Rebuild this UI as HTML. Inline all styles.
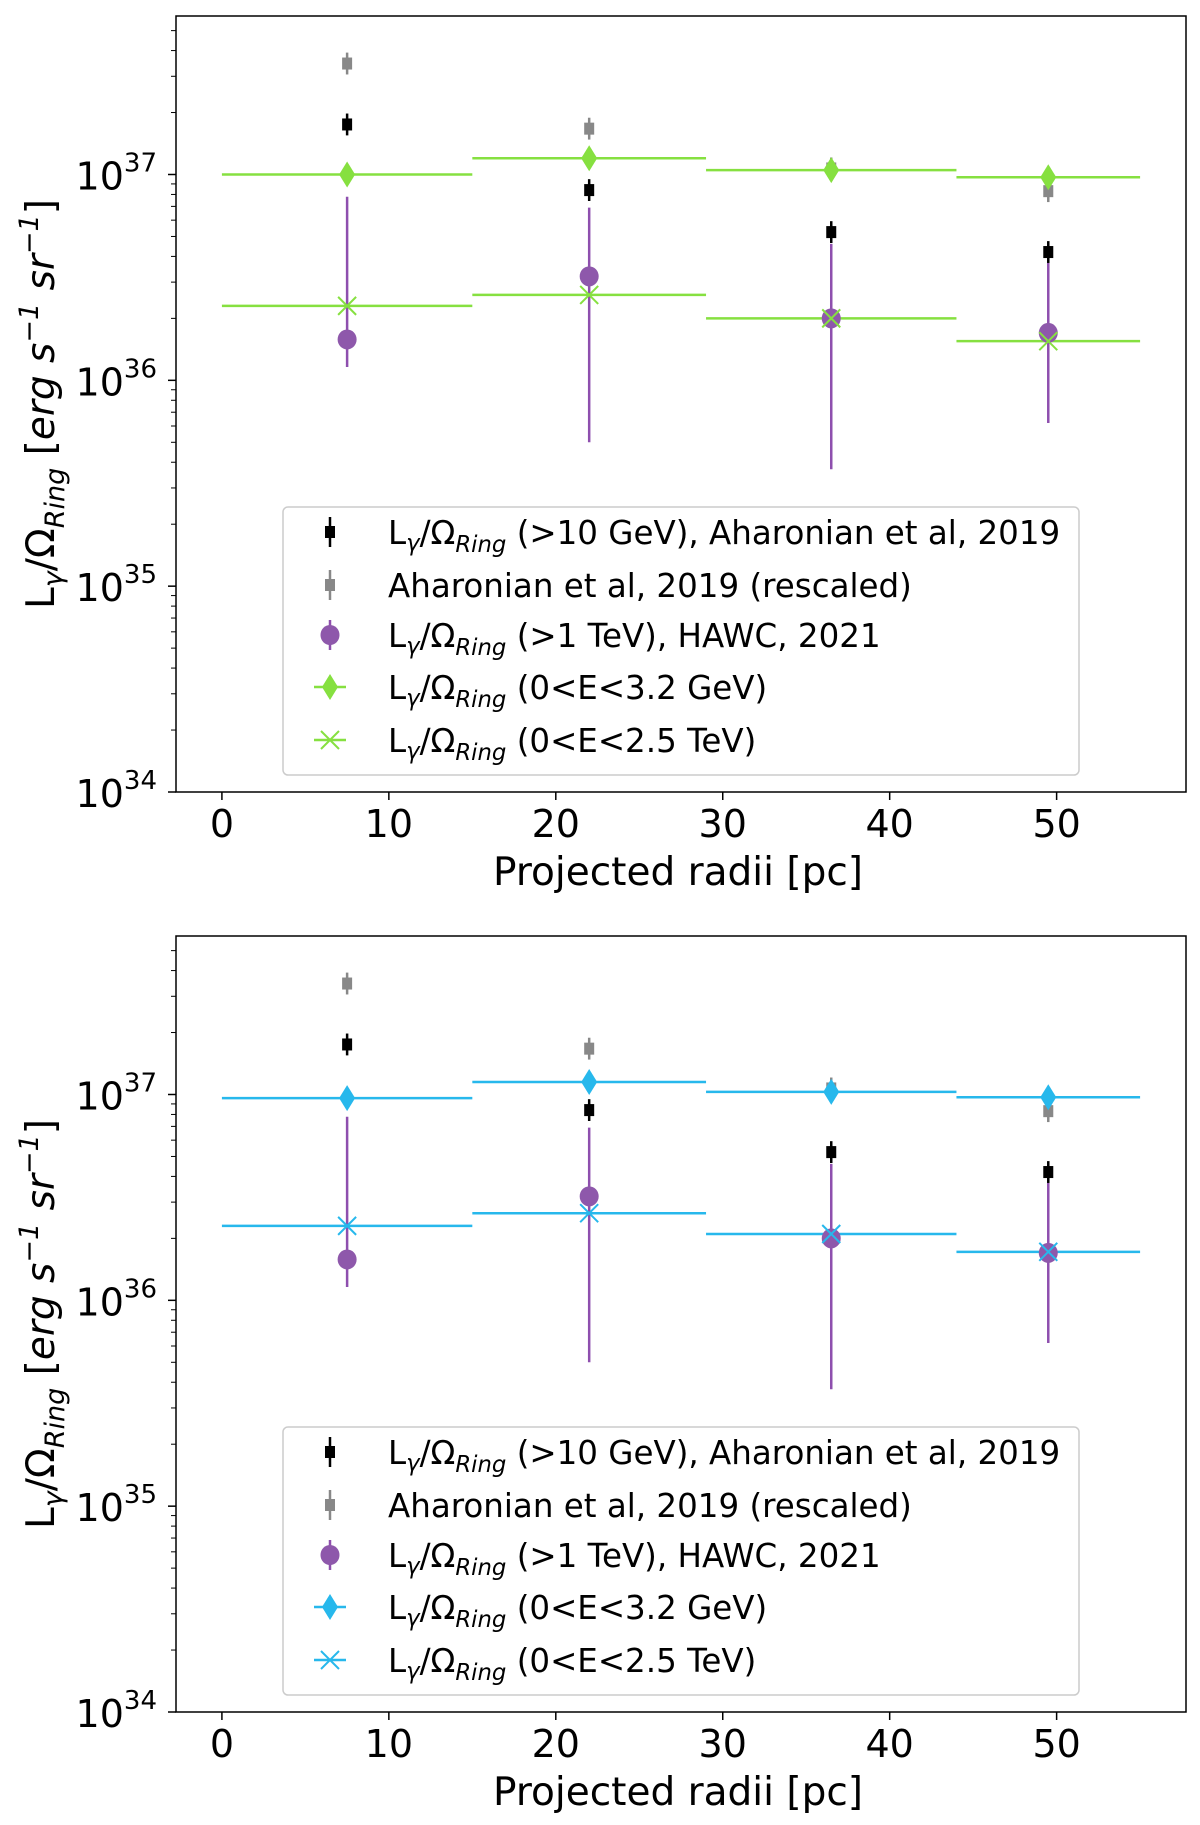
<!DOCTYPE html>
<html><head><meta charset="utf-8"><style>
body{margin:0;background:#fff}
svg{display:block;font-family:"DejaVu Sans","Liberation Sans",sans-serif}
</style></head><body>
<svg id="fig" width="1200" height="1825" viewBox="0 0 1200 1825" xmlns="http://www.w3.org/2000/svg"></svg>
<script>
const xPos = [7.5, 22, 36.5, 49.5];
const binEdges = [0, 15, 29, 44, 55];
const hessVals = [1.75e37, 8.4e36, 5.25e36, 4.2e36];
const hessRescaled = [3.46e37, 1.67e37, 1.07e37, 8.3e36];
const hawcVals = [1.58e36, 3.2e36, 2.0e36, 1.7e36];
const hawcLow = [1.16e36, 5.0e35, 3.7e35, 6.2e35];
const hawcHigh = [7.8e36, 6.9e36, 4.6e36, 4.0e36];
const topGeV = [1.0e37, 1.2e37, 1.05e37, 0.97e37];
const topTeV = [2.3e36, 2.6e36, 2.0e36, 1.55e36];
const botGeV = [0.96e37, 1.15e37, 1.03e37, 0.97e37];
const botTeV = [2.3e36, 2.65e36, 2.1e36, 1.72e36];
const xTicks = [0, 10, 20, 30, 40, 50];
const yDecades = [34, 35, 36, 37];

const NS = "http://www.w3.org/2000/svg";
const svg = document.getElementById('fig');
function mk(tag, attrs, parent){
  const e = document.createElementNS(NS, tag);
  for (const k in attrs) e.setAttribute(k, attrs[k]);
  (parent||svg).appendChild(e);
  return e;
}
function label(parent, x, y, size, extra){
  const t = mk('text', {x:x, y:y, 'font-size':size, fill:'#000'}, parent);
  t.innerHTML = 'L<tspan font-size="'+(size*0.7)+'" dy="'+(size*0.2)+'" font-style="italic">γ</tspan><tspan dy="'+(-size*0.2)+'">/Ω</tspan><tspan font-size="'+(size*0.7)+'" dy="'+(size*0.25)+'" font-style="italic">Ring</tspan><tspan dy="'+(-size*0.25)+'"> '+extra+'</tspan>';
  return t;
}

function panel(top, color, geV, teV, idx){
  const L = 176, R = 1186, T = top, B = top + 776;
  const xmin = -2.75, xmax = 57.75, ymin = 34, ymax = 37.77;
  const X = v => L + (v - xmin) / (xmax - xmin) * (R - L);
  const Y = v => B - (Math.log10(v) - ymin) / (ymax - ymin) * (B - T);
  const g = mk('g', {});
  
  

  for (const d of yDecades){
    const y = B - (d - ymin) / (ymax - ymin) * (B - T);
    mk('line', {x1:L-8, x2:L, y1:y, y2:y, stroke:'#000', 'stroke-width':1.5}, g);
    const t = mk('text', {x:L-19, y:y+15, 'font-size':38, 'text-anchor':'end'}, g);
    t.innerHTML = '10<tspan font-size="26" dy="-18">' + d + '</tspan>';
    
    
    for (let m = 2; m <= 9; m++){
      const v = Math.log10(m) + d;
      if (v > ymax) continue;
      const ym = B - (v - ymin) / (ymax - ymin) * (B - T);
      mk('line', {x1:L-5, x2:L, y1:ym, y2:ym, stroke:'#000', 'stroke-width':1}, g);
    }
  }
  for (const xt of xTicks){
    mk('line', {x1:X(xt), x2:X(xt), y1:B, y2:B+8, stroke:'#000', 'stroke-width':1.5}, g);
    const t = mk('text', {x:X(xt), y:B+45, 'font-size':38, 'text-anchor':'middle'}, g);
    t.textContent = xt;
    
    
  }
  const xl = mk('text', {x:(L+R)/2 - 3, y:B+93, 'font-size':39, 'text-anchor':'middle'}, g);
  xl.textContent = 'Projected radii [pc]';
  
  
  const yl = mk('text', {x:0, y:0, 'font-size':39, 'text-anchor':'middle', transform:'translate(54,'+((T+B)/2)+') rotate(-90)'}, g);
  yl.innerHTML = 'L<tspan font-size="27" dy="8" font-style="italic">γ</tspan><tspan dy="-8">/Ω</tspan><tspan font-size="27" dy="10" font-style="italic">Ring</tspan><tspan dy="-10"> [</tspan><tspan font-style="italic">erg s</tspan><tspan font-size="27" dy="-16" font-style="italic">−1</tspan><tspan dy="16" font-style="italic"> sr</tspan><tspan font-size="27" dy="-16" font-style="italic">−1</tspan><tspan dy="16">]</tspan>';
  
  

  for (let i = 0; i < geV.length; i++){
    const l1 = mk('line', {x1:X(binEdges[i]), x2:X(binEdges[i+1]), y1:Y(geV[i]), y2:Y(geV[i]), stroke:color, 'stroke-width':2.5}, g);
    
    
    const l2 = mk('line', {x1:X(binEdges[i]), x2:X(binEdges[i+1]), y1:Y(teV[i]), y2:Y(teV[i]), stroke:color, 'stroke-width':2.5}, g);
    
    
  }
  for (let i = 0; i < xPos.length; i++){
    const x = X(xPos[i]);
    mk('line', {x1:x, x2:x, y1:Y(hawcLow[i]), y2:Y(hawcHigh[i]), stroke:'#8e4fae', 'stroke-width':2.5}, g);
    const c = mk('ellipse', {cx:x, cy:Y(hawcVals[i]), rx:9.5, ry:10, fill:'#8e58ab'}, g);
    
    
  }
  for (let i = 0; i < xPos.length; i++){
    const x = X(xPos[i]);
    let y = Y(hessVals[i]);
    mk('line', {x1:x, x2:x, y1:Y(hessVals[i]*1.13), y2:Y(hessVals[i]/1.13), stroke:'#000', 'stroke-width':2.5}, g);
    const r = mk('rect', {x:x-5, y:y-6, width:10, height:12, fill:'#000'}, g);
    
    
    y = Y(hessRescaled[i]);
    mk('line', {x1:x, x2:x, y1:Y(hessRescaled[i]*1.13), y2:Y(hessRescaled[i]/1.13), stroke:'#888', 'stroke-width':2.5}, g);
    const r2 = mk('rect', {x:x-5, y:y-6, width:10, height:12, fill:'#888'}, g);
    
    
  }
  for (let i = 0; i < xPos.length; i++){
    const x = X(xPos[i]);
    let y = Y(geV[i]);
    const d = mk('polygon', {points:(x)+','+(y-13)+' '+(x+8)+','+y+' '+x+','+(y+13)+' '+(x-8)+','+y, fill:color}, g);
    
    
    y = Y(teV[i]);
    const p = mk('path', {d:'M'+(x-9)+' '+(y-9)+'L'+(x+9)+' '+(y+9)+'M'+(x-9)+' '+(y+9)+'L'+(x+9)+' '+(y-9), stroke:color, 'stroke-width':2, fill:'none'}, g);
    
    
  }
  mk('rect', {x:L, y:T, width:R-L, height:B-T, fill:'none', stroke:'#000', 'stroke-width':1.5}, g);

  const lg = mk('g', {}, g);
  
  
  const ly0 = T + 491;
  mk('rect', {x:283, y:ly0, width:796, height:268, rx:5, fill:'#fff', 'fill-opacity':0.85, stroke:'#ccc', 'stroke-width':1.5}, lg);
  const rows = [ly0+25, ly0+78, ly0+128, ly0+180, ly0+233];
  const mx = 330, tx = 388, fs = 32.5;
  mk('line', {x1:mx, x2:mx, y1:rows[0]-15, y2:rows[0]+15, stroke:'#000', 'stroke-width':2.5}, lg);
  mk('rect', {x:mx-5, y:rows[0]-6, width:10, height:12, fill:'#000'}, lg);
  label(lg, tx, rows[0]+12, fs, '(>10 GeV), Aharonian et al, 2019');
  mk('line', {x1:mx, x2:mx, y1:rows[1]-15, y2:rows[1]+15, stroke:'#888', 'stroke-width':2.5}, lg);
  mk('rect', {x:mx-5, y:rows[1]-6, width:10, height:12, fill:'#888'}, lg);
  const t2 = mk('text', {x:tx, y:rows[1]+12, 'font-size':fs}, lg); t2.textContent = 'Aharonian et al, 2019 (rescaled)';
  mk('line', {x1:mx, x2:mx, y1:rows[2]-15, y2:rows[2]+15, stroke:'#8e4fae', 'stroke-width':2.5}, lg);
  mk('ellipse', {cx:mx, cy:rows[2], rx:9.5, ry:10, fill:'#8e58ab'}, lg);
  label(lg, tx, rows[2]+12, fs, '(>1 TeV), HAWC, 2021');
  mk('line', {x1:mx-16, x2:mx+16, y1:rows[3], y2:rows[3], stroke:color, 'stroke-width':2.5}, lg);
  mk('polygon', {points:mx+','+(rows[3]-13)+' '+(mx+8)+','+rows[3]+' '+mx+','+(rows[3]+13)+' '+(mx-8)+','+rows[3], fill:color}, lg);
  label(lg, tx, rows[3]+12, fs, '(0&lt;E&lt;3.2 GeV)');
  mk('line', {x1:mx-16, x2:mx+16, y1:rows[4], y2:rows[4], stroke:color, 'stroke-width':2.5}, lg);
  mk('path', {d:'M'+(mx-9)+' '+(rows[4]-9)+'L'+(mx+9)+' '+(rows[4]+9)+'M'+(mx-9)+' '+(rows[4]+9)+'L'+(mx+9)+' '+(rows[4]-9), stroke:color, 'stroke-width':2, fill:'none'}, lg);
  label(lg, tx, rows[4]+12, fs, '(0&lt;E&lt;2.5 TeV)');
}
panel(16, '#86e040', topGeV, topTeV, 'top');
panel(936, '#27b8ec', botGeV, botTeV, 'bottom');
</script>
</body></html>
